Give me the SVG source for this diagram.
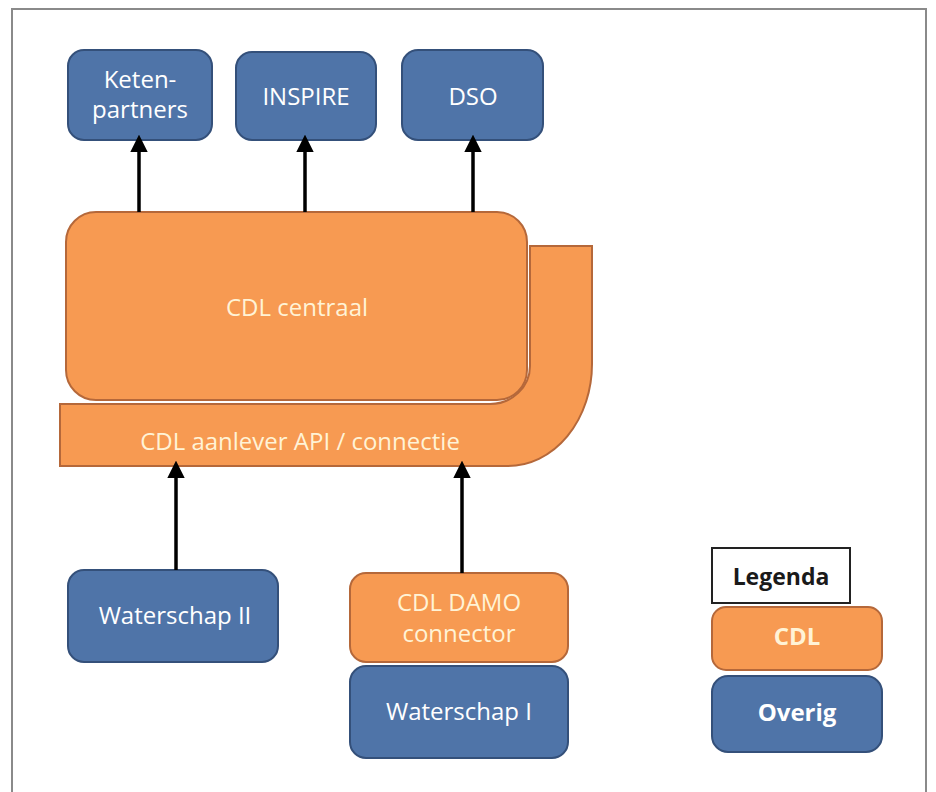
<svg xmlns="http://www.w3.org/2000/svg" width="936" height="792" viewBox="0 0 936 792">
<defs>
<style>
.blue{fill:#4F74A8;stroke:#34507A;stroke-width:2}
.orange{fill:#F79A52;stroke:#B5683A;stroke-width:2}
.tw{font-family:"Open Sans","Noto Sans",sans-serif;fill:#FFFFFF;text-anchor:middle;font-size:24px}
.to{font-family:"Open Sans","Noto Sans",sans-serif;fill:#FFF3D6;text-anchor:middle;font-size:24px}
.conn{stroke:#000;stroke-width:3.5;fill:none;marker-end:url(#ah)}
</style>
<marker id="ah" markerWidth="5" markerHeight="5" refX="2.6" refY="2.5" orient="auto" markerUnits="strokeWidth">
<path d="M0,0 L5,2.5 L0,5 Z" fill="#000"/>
</marker>
</defs>
<rect x="0" y="0" width="936" height="792" fill="#FFFFFF"/>
<path d="M12,792 L12,9 L926,9 L926,792" fill="none" stroke="#8A8A8A" stroke-width="2"/>

<g id="keten">
<rect class="blue" x="68" y="50" width="144" height="90" rx="16"/>
<text class="tw" x="140" y="88" font-size="23">Keten-</text>
<text class="tw" x="140" y="118" font-size="23">partners</text>
</g>
<g id="inspire">
<rect class="blue" x="236" y="52" width="140" height="88" rx="16"/>
<text class="tw" x="306" y="105">INSPIRE</text>
</g>
<g id="dso">
<rect class="blue" x="402" y="50" width="141" height="90" rx="16"/>
<text class="tw" x="473" y="105">DSO</text>
</g>

<g id="api">
<path class="orange" d="M60,404 L490,404 A40 38 0 0 0 530,366 L530,246 L592,246 L592,364 A84 102 0 0 1 508,466 L60,466 Z"/>
<text class="to" x="300" y="450" font-size="27">CDL aanlever API / connectie</text>
</g>
<g id="centraal">
<rect class="orange" x="66" y="212" width="461" height="188" rx="30"/>
<text class="to" x="297" y="316">CDL centraal</text>
</g>

<g id="waterschap2">
<rect class="blue" x="68" y="570" width="210" height="92" rx="16"/>
<text class="tw" x="175" y="624">Waterschap II</text>
</g>
<g id="damo">
<rect class="orange" x="350" y="573" width="218" height="89" rx="16"/>
<text class="to" x="459" y="611">CDL DAMO</text>
<text class="to" x="459" y="642">connector</text>
</g>
<g id="waterschap1">
<rect class="blue" x="350" y="666" width="218" height="92" rx="16"/>
<text class="tw" x="459" y="720">Waterschap I</text>
</g>

<g id="legenda">
<rect x="712" y="548" width="138" height="55" fill="#FFFFFF" stroke="#222" stroke-width="2"/>
<text x="781" y="585" font-family="Open Sans,Noto Sans,sans-serif" font-size="23" font-weight="bold" fill="#1A1A1A" text-anchor="middle">Legenda</text>
</g>
<g id="legend-cdl">
<rect class="orange" x="712" y="607" width="170" height="63" rx="14"/>
<text class="to" x="797" y="645" font-size="15" font-weight="bold">CDL</text>
</g>
<g id="legend-overig">
<rect class="blue" x="712" y="676" width="170" height="76" rx="16"/>
<text class="tw" x="797" y="721" font-size="17" font-weight="bold">Overig</text>
</g>

<g id="connectors">
<line class="conn" x1="139" y1="212" x2="139" y2="143"/>
<line class="conn" x1="305" y1="212" x2="305" y2="143"/>
<line class="conn" x1="473" y1="212" x2="473" y2="143"/>
<line class="conn" x1="176" y1="570" x2="176" y2="469"/>
<line class="conn" x1="462" y1="573" x2="462" y2="469"/>
</g>
</svg>
